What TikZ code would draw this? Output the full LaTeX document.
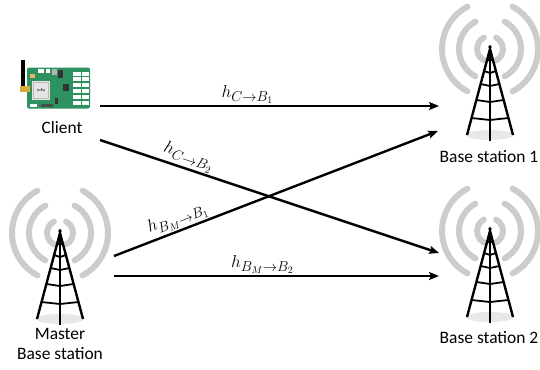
\documentclass[tikz,border=0pt]{standalone}
\usepackage{fontspec}
\setmainfont{Carlito}
\usetikzlibrary{arrows.meta}
\DeclareMathSizes{18}{18}{13.5}{10}

\definecolor{boardgreen}{RGB}{46,146,96}
\definecolor{wavegray}{RGB}{204,204,204}
\definecolor{gold}{RGB}{214,170,60}

\tikzset{
  link/.style={line width=2.4pt, -{Stealth[length=10pt,width=8pt,inset=2pt]}},
  chan/.style={font=\fontsize{18}{20}\selectfont, inner sep=1.5pt},
  caption/.style={font=\fontsize{17.5}{20}\selectfont, align=center},
  wave/.style={line width=6pt, wavegray, line cap=round},
  tower/.pic={
    \foreach \r in {13,31,48}{
      \draw[wave] (0,0) ++(118:\r) arc (118:242:\r);
      \draw[wave] (0,0) ++(-62:\r) arc (-62:62:\r);
    }
    \fill[gray!18] (0,86) ellipse (24 and 5);
    \draw[line width=2.4pt] (-23,86) -- (0,0) -- (23,86);
    \draw[line width=2.6pt] (0,0) -- (0,92);
    \foreach \y in {10,22,35,51,69}
      \draw[line width=1.8pt] ({-23*\y/86},\y) -- (0,\y+2) -- ({23*\y/86},\y);
    \fill (0,-2) circle (1.8);
  }
}

\begin{document}
\begin{tikzpicture}[x=1bp, y=-1bp]
  \useasboundingbox (0,0) rectangle (540,369);

  % client board
  \fill (20.5,60) rectangle (24.5,90);
  \node[fill=boardgreen, rounded corners=2bp, minimum width=63bp,
        minimum height=41bp, inner sep=0pt] (client) at (58.5,88) {};
  \fill[gold] (19.5,86) rectangle (30,92);
  \fill[gray!20] (32,81) rectangle (50,100);
  \draw[gray!55, line width=0.4pt] (33.5,82.5) rectangle (48.5,98.5);
  \node[font=\fontsize{4}{4}\selectfont, inner sep=0pt] (lora) at (41,90.5) {LoRa};
  \foreach \r in {0,...,5}{
    \fill[white] (73,{71.5+\r*5.8}) rectangle (80.5,{75.5+\r*5.8});
    \fill[white] (82,{71.5+\r*5.8}) rectangle (89,{75.5+\r*5.8});
  }
  \fill[white] (38,69) rectangle (44,73);
  \fill[white] (46,69) rectangle (50,73);
  \fill[gray!60] (52,69) rectangle (57,75);
  \fill[black!80] (58,70) rectangle (63,78);
  \fill[black!80] (63,84) rectangle (69,91);
  \fill[black!80] (55,98) rectangle (58,104);
  \fill[black!70] (41,104) rectangle (53,107);
  \fill[white] (30,104) rectangle (37,107);
  \fill[gold!80] (30,74) rectangle (35,78);

  \node[caption] (client label) at (62,128) {Client};

  % base stations
  \pic at (490,49) {tower};
  \pic at (490,231) {tower};
  \pic at (60,233) {tower};
  \node[caption] (bs1) at (489,157) {Base station 1};
  \node[caption] (bs2) at (489,338) {Base station 2};
  \node[caption] (master) at (60,344) {Master\\Base station};

  % channels
  \coordinate (c1) at (100,106);
  \coordinate (c2) at (100,140);
  \coordinate (m1) at (114,256);
  \coordinate (m2) at (114,276);
  \coordinate (b11) at (439,106);
  \coordinate (b12) at (438,131);
  \coordinate (b21) at (439,253);
  \coordinate (b22) at (439,276);
  \begin{scope}
    \draw[link] (c1) -- node[chan, above, pos=0.435] {$h_{C\to B_1}$} (b11);
    \draw[link] (c2) -- node[chan, above, sloped, pos=0.25] {$h_{C\to B_2}$} (b21);
    \draw[link] (m1) -- node[chan, above, sloped, pos=0.21] {$h_{B_M\to B_1}$} (b12);
    \draw[link] (m2) -- node[chan, above, pos=0.457] {$h_{B_M\to B_2}$} (b22);
  \end{scope}
\end{tikzpicture}
\end{document}
